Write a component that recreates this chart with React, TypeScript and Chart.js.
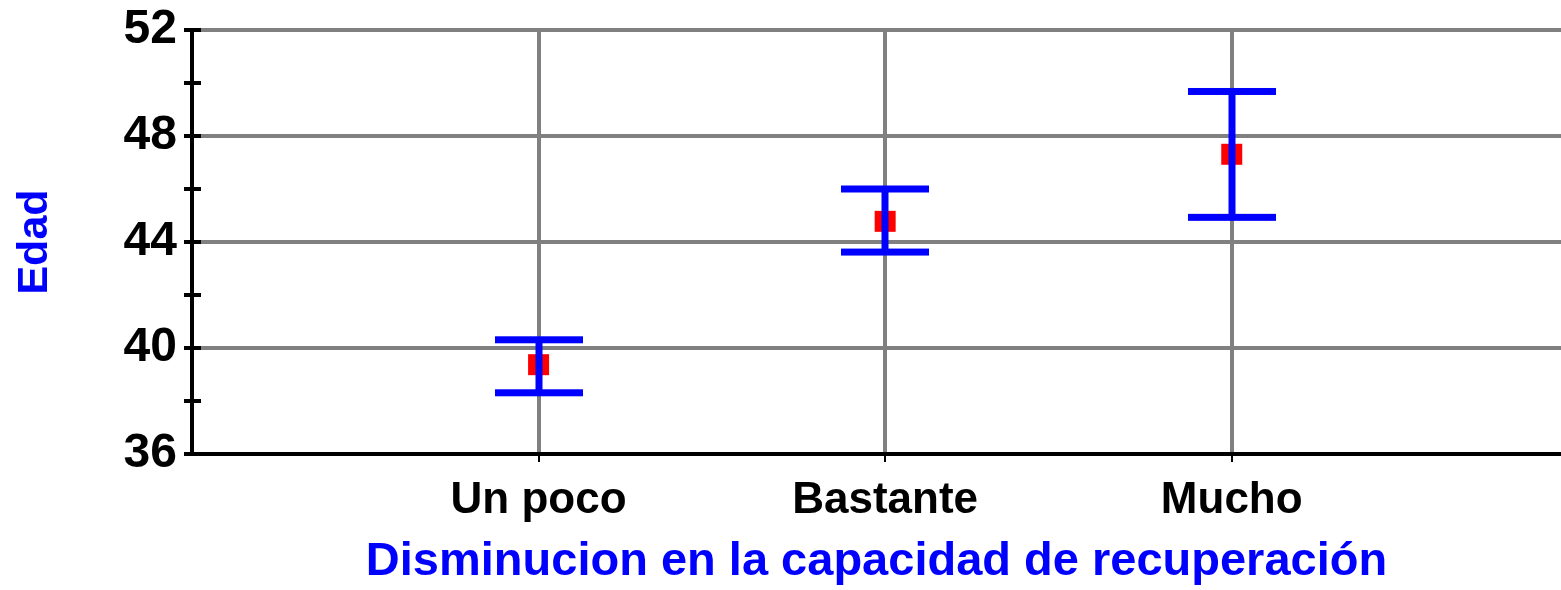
import React, { useEffect, useRef } from "react";
import { Chart, registerables } from "chart.js";

Chart.register(...registerables);

const categories = ["Un poco", "Bastante", "Mucho"];
const means = [39.37, 44.78, 47.31];
const lowerBounds = [38.31, 43.62, 44.93];
const upperBounds = [40.31, 46.0, 49.68];
const yLabelValues = [36, 40, 44, 48, 52];
const xTitle = "Disminucion en la capacidad de recuperación";
const yTitle = "Edad";

const FONT = "'Liberation Sans', Arial, sans-serif";
const BLUE = "#0000FF";
const GRAY = "#808080";

const innerTicksPlugin = {
  id: "innerTicks",
  beforeDatasetsDraw(chart: any) {
    const y = chart.scales.y;
    const area = chart.chartArea;
    const ctx = chart.ctx;
    ctx.save();
    ctx.strokeStyle = "#000";
    ctx.lineWidth = 4;
    y.ticks.forEach((t: any) => {
      const py = Math.round(y.getPixelForValue(t.value));
      ctx.beginPath();
      ctx.moveTo(area.left, py);
      ctx.lineTo(area.left + 9, py);
      ctx.stroke();
    });
    ctx.restore();
  },
};

const errorBarsPlugin = {
  id: "errorBars",
  afterDatasetsDraw(chart: any) {
    const xs = chart.scales.x;
    const ys = chart.scales.y;
    const ctx = chart.ctx;
    ctx.save();
    ctx.fillStyle = BLUE;
    const t = 7;
    const capHalf = 44;
    categories.forEach((_, i) => {
      const px = Math.round(xs.getPixelForValue(i + 1));
      const pu = ys.getPixelForValue(upperBounds[i]);
      const pl = ys.getPixelForValue(lowerBounds[i]);
      ctx.fillRect(px - t / 2, pu, t, pl - pu);
      ctx.fillRect(px - capHalf, pu - t / 2, capHalf * 2, t);
      ctx.fillRect(px - capHalf, pl - t / 2, capHalf * 2, t);
    });
    ctx.restore();
  },
};

export default function App() {
  const ref = useRef<HTMLCanvasElement | null>(null);

  useEffect(() => {
    if (!ref.current) return;
    const chart = new Chart(ref.current, {
      type: "scatter",
      data: {
        datasets: [
          {
            data: means.map((m, i) => ({ x: i + 1, y: m })),
            pointStyle: "rect",
            pointRadius: 14.85,
            pointHoverRadius: 14.85,
            pointBackgroundColor: "#FF0000",
            pointBorderWidth: 0,
            showLine: false,
          },
        ],
      },
      options: {
        animation: false,
        responsive: true,
        maintainAspectRatio: false,
        events: [],
        layout: { autoPadding: false, padding: { top: 30, right: 0, left: 0, bottom: 0 } },
        plugins: {
          legend: { display: false },
          tooltip: { enabled: false },
        },
        scales: {
          x: {
            type: "linear",
            min: 0,
            max: 3.95,
            afterFit: (axis: any) => {
              axis.height = 136;
            },
            ticks: {
              stepSize: 1,
              includeBounds: false,
              autoSkip: false,
              maxRotation: 0,
              padding: 12,
              color: "#000",
              font: { family: FONT, size: 44, weight: "bold" },
              callback: (v: any) => (v >= 1 && v <= categories.length ? categories[v - 1] : ""),
            },
            grid: {
              color: (c: any) => (c.tick && c.tick.value === 0 ? "rgba(0,0,0,0)" : GRAY),
              lineWidth: 4,
              tickLength: 8,
              tickWidth: 2,
              tickColor: (c: any) => (c.tick && c.tick.value === 0 ? "rgba(0,0,0,0)" : "#000"),
            },
            border: { display: true, color: "#000", width: 4, z: 1 },
            title: {
              display: true,
              text: xTitle,
              color: BLUE,
              font: { family: FONT, size: 47, weight: "bold" },
              padding: { top: 0, bottom: 0 },
            },
          },
          y: {
            min: 36,
            max: 52,
            afterFit: (axis: any) => {
              axis.width = 192;
            },
            ticks: {
              stepSize: 2,
              padding: 7,
              color: "#000",
              font: { family: FONT, size: 48, weight: "bold", lineHeight: 0.9 },
              callback: (v: any) => (yLabelValues.includes(v) ? String(v) : ""),
            },
            grid: {
              color: (c: any) =>
                c.tick && yLabelValues.includes(c.tick.value) && c.tick.value !== 36 ? GRAY : "rgba(0,0,0,0)",
              lineWidth: 4,
              tickLength: 8,
              tickWidth: 4,
              tickColor: "#000",
            },
            border: { display: true, color: "#000", width: 4, z: 1 },
            title: {
              display: true,
              text: yTitle,
              color: BLUE,
              font: { family: FONT, size: 43, weight: "bold" },
              padding: { top: 9, bottom: 0 },
            },
          },
        },
      },
      plugins: [innerTicksPlugin, errorBarsPlugin],
    } as any);
    return () => chart.destroy();
  }, []);

  return (
    <div
      style={{
        position: "absolute",
        left: 0,
        top: 0,
        width: 1561,
        height: 590,
        overflow: "hidden",
        background: "#fff",
      }}
    >
      <canvas ref={ref} style={{ display: "block" }} />
    </div>
  );
}
